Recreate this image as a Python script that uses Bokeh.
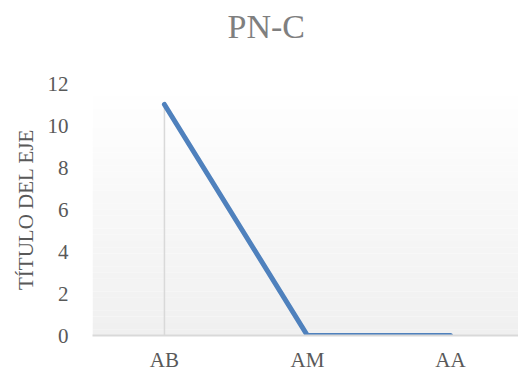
from bokeh.plotting import figure
from bokeh.models import BoxAnnotation, FixedTicker, ColumnDataSource
from bokeh.embed import file_html
from bokeh.resources import INLINE

title = "PN-C"
categories = ["AB", "AM", "AA"]
values = [11, 0, 0]
y_ticks = [0, 2, 4, 6, 8, 10, 12]
y_label = "TÍTULO DEL EJE"

xs = list(range(len(categories)))
FONT = "Liberation Serif"

p = figure(width=518, height=374, output_backend="svg", toolbar_location=None,
           x_range=(-0.503, 2.476), y_range=(0, 12),
           min_border_left=92, min_border_right=0, min_border_top=83, min_border_bottom=39)
p.outline_line_color = None
p.background_fill_color = "white"
p.border_fill_color = "white"

# gradient wall
n = 40
for i in range(n):
    t = i / (n - 1)
    c = int(round(240 + (255 - 240) * t))
    col = "#%02x%02x%02x" % (c, c, c)
    p.add_layout(BoxAnnotation(bottom=12 * i / n, top=12 * (i + 1) / n,
                               fill_color=col, fill_alpha=1.0, line_color=None, level="underlay"))

p.xgrid.grid_line_color = None
p.ygrid.grid_line_color = None

# drop lines
p.segment(x0=xs, y0=[0] * len(xs), x1=xs, y1=values, line_color="#d9d9d9", line_width=1.5)

src = ColumnDataSource(dict(x=xs, y=values))
p.line("x", "y", source=src, line_color="#4f81bd", line_width=5, line_cap="round", line_join="round")

# title (second blank line lifts it away from the plot area)
p.title.text = title + "\n "
p.title.text_font = FONT
p.title.text_font_size = "34px"
p.title.text_font_style = "normal"
p.title.text_color = "#7f7f7f"
p.title.text_line_height = 1.0
p.title.align = "left"
p.title.offset = 135
p.title.vertical_align = "top"
p.title.standoff = 0

# x axis
p.xaxis.ticker = FixedTicker(ticks=xs)
p.xaxis.major_label_overrides = {i: c for i, c in zip(xs, categories)}
p.xaxis.axis_line_color = "#d9d9d9"
p.xaxis.axis_line_width = 2
p.xaxis.major_tick_line_color = None
p.xaxis.minor_tick_line_color = None
p.xaxis.major_tick_out = 0
p.xaxis.major_tick_in = 0
p.xaxis.major_label_text_font = FONT
p.xaxis.major_label_text_font_size = "21px"
p.xaxis.major_label_text_color = "#595959"
p.xaxis.major_label_standoff = 12

# y axis
p.yaxis.ticker = FixedTicker(ticks=y_ticks)
p.yaxis.axis_line_color = None
p.yaxis.major_tick_line_color = None
p.yaxis.minor_tick_line_color = None
p.yaxis.major_tick_out = 0
p.yaxis.major_tick_in = 0
p.yaxis.major_label_text_font = FONT
p.yaxis.major_label_text_font_size = "21px"
p.yaxis.major_label_text_color = "#595959"
p.yaxis.major_label_standoff = 24
p.yaxis.axis_label = y_label
p.yaxis.axis_label_text_font = FONT
p.yaxis.axis_label_text_font_size = "21px"
p.yaxis.axis_label_text_font_style = "normal"
p.yaxis.axis_label_text_color = "#595959"
p.yaxis.axis_label_standoff = 7

open("out.html", "w").write(file_html(p, INLINE))
